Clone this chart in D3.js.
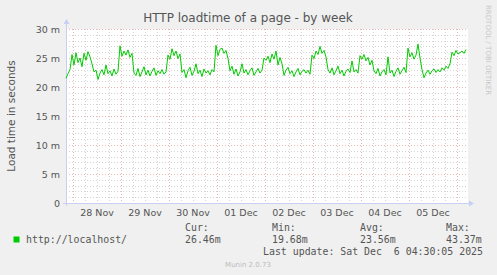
<!DOCTYPE html>
<html>
<head>
<meta charset="utf-8">
<script src="https://cdn.jsdelivr.net/npm/d3@7"></script>
<style>
  html, body { margin: 0; padding: 0; background: #f0f0f0; }
  svg { display: block; }
</style>
</head>
<body>
<div id="chart"></div>
<script>
// hourly samples of load time (ms), starting 27 Nov 20:30
const loadtime = [
  21.5, 22.3, 23.0,
  25.6, 23.8, 25.9, 24.2, 25.0, 23.5, 25.8, 24.6, 26.1, 25.2, 24.0,
  22.6, 22.9, 21.3, 22.4, 23.0, 22.1, 23.8, 22.3, 22.8, 21.9, 23.1, 22.2, 22.7,
  27.1, 25.3, 26.2, 25.5, 26.4, 25.1, 25.8,
  22.4, 22.0, 23.2, 21.8, 22.6, 23.5, 22.1, 22.9, 21.9, 22.7, 23.3, 22.0, 22.8, 22.3, 23.0, 22.2, 22.6,
  25.5, 24.8, 26.6, 25.4, 26.2, 24.9, 25.7,
  22.5, 23.0, 21.6, 22.8, 23.4, 22.0, 22.7, 24.0, 22.3, 22.9, 21.8, 23.1, 22.4, 22.8, 22.1, 23.0, 22.6,
  27.2, 25.4, 26.5, 26.7, 25.8, 26.3, 24.9,
  22.8, 23.6, 22.2, 23.1, 21.9, 22.6, 24.0, 22.4, 23.0, 22.1, 22.8, 23.3, 22.0, 22.6, 23.2, 22.4, 22.9,
  25.0, 24.6, 25.3, 24.2, 25.7, 24.8, 26.2, 23.8, 25.1, 24.0,
  22.0, 22.9, 23.4, 22.3, 22.8, 21.8, 22.6, 23.2, 22.1, 22.7, 23.0, 22.4, 22.9, 22.2,
  25.5, 24.9, 26.2, 25.6, 27.0, 25.8, 26.3, 25.2,
  23.0, 22.4, 23.3, 22.1, 22.8, 23.6, 22.3, 22.9, 21.9, 22.7, 23.1, 22.5, 24.5, 22.6, 23.0, 22.4,
  25.4, 24.8, 25.6, 24.5, 25.1, 23.8, 24.6,
  22.8, 22.3, 23.2, 21.9, 22.6, 23.0, 22.1, 25.2, 22.4, 22.9, 21.8, 22.7, 23.3, 22.2, 22.8, 23.4, 22.5,
  26.7, 25.2, 25.9, 24.8, 25.5, 27.4, 25.0,
  23.0, 21.6, 22.4, 22.9, 22.2, 22.8, 23.1, 22.5, 23.0, 22.6, 23.3, 22.9, 23.6, 23.2, 24.0,
  26.0, 25.4, 26.3, 25.7, 25.9, 26.2, 25.8, 26.46
];

const yTicks = [0, 5, 10, 15, 20, 25, 30];
const yTickLabels = ["0", "5 m", "10 m", "15 m", "20 m", "25 m", "30 m"];
const dayLabels = ["28 Nov", "29 Nov", "30 Nov", "01 Dec", "02 Dec", "03 Dec", "04 Dec", "05 Dec"];
const statNames = ["Cur:", "Min:", "Avg:", "Max:"];
const statValues = ["26.46m", "19.68m", "23.56m", "43.37m"];

const width = 497;
const height = 275;
const start = new Date(2025, 10, 27, 20, 30);
const end = new Date(2025, 11, 6, 4, 30);
const hour = 3600 * 1000;

const svg = d3.select("#chart")
  .append("svg")
  .attr("width", width)
  .attr("height", height)
  .style("font-family", "'DejaVu Sans', sans-serif");

svg.append("rect")
  .attr("width", width)
  .attr("height", height)
  .attr("fill", "#f0f0f0");

const x = d3.scaleTime().domain([start, end]).range([66, 466]);
const y = d3.scaleLinear().domain([0, 30]).range([203, 29]);

// canvas
svg.append("rect")
  .attr("x", 66).attr("y", 29)
  .attr("width", 402).attr("height", 174)
  .attr("fill", "#fff");

const grid = svg.append("g");
const minorColor = "#d4d4d4";
const majorColor = "#eab4b4";

// minor horizontal (1 m)
grid.selectAll("line.hmin")
  .data(d3.range(1, 31).filter(v => v % 5 !== 0))
  .join("line")
  .attr("x1", 66).attr("x2", 468)
  .attr("y1", d => Math.round(y(d)) + 0.5)
  .attr("y2", d => Math.round(y(d)) + 0.5)
  .attr("stroke", minorColor)
  .attr("stroke-dasharray", "1,2");

// minor vertical (6 h)
const sixHours = d3.timeHour.every(6).range(start, end).filter(d => d.getHours() !== 0);
grid.selectAll("line.vmin")
  .data(sixHours)
  .join("line")
  .attr("x1", d => Math.round(x(d)) + 0.5)
  .attr("x2", d => Math.round(x(d)) + 0.5)
  .attr("y1", 29).attr("y2", 203)
  .attr("stroke", minorColor)
  .attr("stroke-dasharray", "1,2");

// major horizontal
grid.selectAll("line.hmaj")
  .data(yTicks.slice(1))
  .join("line")
  .attr("x1", 66).attr("x2", 468)
  .attr("y1", d => Math.round(y(d)) + 0.5)
  .attr("y2", d => Math.round(y(d)) + 0.5)
  .attr("stroke", majorColor)
  .attr("stroke-dasharray", "1,2");

// major vertical (midnight)
const days = d3.timeDay.range(start, end);
grid.selectAll("line.vmaj")
  .data(days)
  .join("line")
  .attr("x1", d => Math.round(x(d)) + 0.5)
  .attr("x2", d => Math.round(x(d)) + 0.5)
  .attr("y1", 29).attr("y2", 203)
  .attr("stroke", majorColor)
  .attr("stroke-dasharray", "1,2");

// axes with arrows
const axisColor = "#c8cff4";
svg.append("line")
  .attr("x1", 63).attr("x2", 469)
  .attr("y1", 203.5).attr("y2", 203.5)
  .attr("stroke", axisColor);
svg.append("path")
  .attr("d", "M469,200.5 L474,203.5 L469,206.5 Z")
  .attr("fill", axisColor);
svg.append("line")
  .attr("x1", 66.5).attr("x2", 66.5)
  .attr("y1", 206).attr("y2", 24)
  .attr("stroke", axisColor);
svg.append("path")
  .attr("d", "M63.5,24 L66.5,19 L69.5,24 Z")
  .attr("fill", axisColor);

// data line
const line = d3.line()
  .x((d, i) => x(new Date(start.getTime() + i * hour)))
  .y(d => y(d));

svg.append("path")
  .datum(loadtime)
  .attr("d", line)
  .attr("fill", "none")
  .attr("stroke", "#00cc00")
  .attr("stroke-width", 1);

// y tick labels
svg.selectAll("text.ytick")
  .data(yTicks)
  .join("text")
  .attr("x", 60)
  .attr("y", d => y(d) + 3.5)
  .attr("text-anchor", "end")
  .attr("font-size", "9.5px")
  .attr("fill", "#555")
  .text((d, i) => yTickLabels[i]);

// x tick labels at noon
svg.selectAll("text.xtick")
  .data(dayLabels)
  .join("text")
  .attr("x", (d, i) => x(d3.timeHour.offset(days[i], 12)))
  .attr("y", 216)
  .attr("text-anchor", "middle")
  .attr("font-size", "9.5px")
  .attr("fill", "#555")
  .text(d => d);

// title
svg.append("text")
  .attr("x", 248)
  .attr("y", 22)
  .attr("text-anchor", "middle")
  .attr("font-size", "12px")
  .attr("fill", "#555")
  .text("HTTP loadtime of a page - by week");

// y axis title
svg.append("text")
  .attr("transform", "translate(15,116) rotate(-90)")
  .attr("text-anchor", "middle")
  .attr("font-size", "10.5px")
  .attr("fill", "#555")
  .text("Load time in seconds");

// side watermark
svg.append("text")
  .attr("transform", "translate(486,5) rotate(90)")
  .attr("font-size", "7px")
  .attr("fill", "#c8c8c8")
  .text("RRDTOOL / TOBI OETIKER");

// legend
const mono = "'DejaVu Sans Mono', monospace";
svg.append("rect")
  .attr("x", 13.5).attr("y", 236.5)
  .attr("width", 6).attr("height", 6)
  .attr("fill", "#00cc00");

svg.append("text")
  .attr("x", 26).attr("y", 243)
  .attr("font-family", mono)
  .attr("font-size", "9.9px")
  .attr("fill", "#555")
  .text("http://localhost/");

const statX = [185, 272, 360, 446];
svg.selectAll("text.sname")
  .data(statNames)
  .join("text")
  .attr("x", (d, i) => statX[i])
  .attr("y", 231)
  .attr("font-family", mono)
  .attr("font-size", "9.9px")
  .attr("fill", "#555")
  .text(d => d);

svg.selectAll("text.sval")
  .data(statValues)
  .join("text")
  .attr("x", (d, i) => statX[i])
  .attr("y", 243)
  .attr("font-family", mono)
  .attr("font-size", "9.9px")
  .attr("fill", "#555")
  .text(d => d);

svg.append("text")
  .attr("x", 483).attr("y", 254.5)
  .attr("text-anchor", "end")
  .attr("font-family", mono)
  .attr("font-size", "9.9px")
  .attr("fill", "#555")
  .attr("xml:space", "preserve")
  .style("white-space", "pre")
  .text("Last update: Sat Dec  6 04:30:05 2025");

svg.append("text")
  .attr("x", 248).attr("y", 267)
  .attr("text-anchor", "middle")
  .attr("font-size", "7px")
  .attr("fill", "#bbb")
  .text("Munin 2.0.73");
</script>
</body>
</html>
